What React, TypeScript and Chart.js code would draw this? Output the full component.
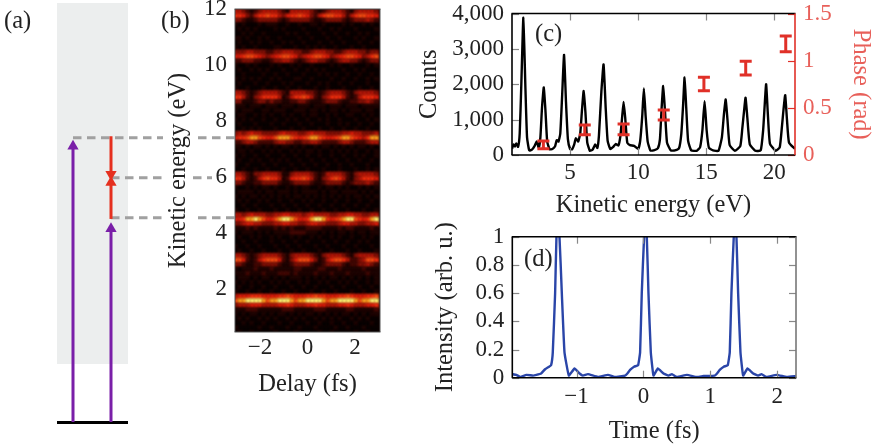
import React, { useEffect, useRef } from "react";
import { Chart, registerables } from "chart.js";

Chart.register(...registerables);

const SERIF = '"Liberation Serif", serif';

// Panel (a): level scheme, y in eV on the same scale as panel (b)
const bgBandX = [57, 128];
const bgBandTop = 12.21;
const bgBandBottom = -0.68;
const groundX = [57, 128];
const groundE = -2.77;
const pumpLeft = [{ x: 73, y: -2.75 }, { x: 73, y: 7.1 }];
const pumpRight = [{ x: 111, y: -2.75 }, { x: 111, y: 4.15 }];
const redDown = [{ x: 111, y: 7.45 }, { x: 111, y: 6.1 }];
const redUp = [{ x: 111, y: 4.5 }, { x: 111, y: 5.8 }];
const dash74 = [{ x: 73, y: 7.4 }, { x: 163, y: 7.4 }, { x: NaN, y: NaN }, { x: 198, y: 7.4 }, { x: 235, y: 7.4 }];
const dash60 = [{ x: 111, y: 5.97 }, { x: 163, y: 5.97 }, { x: NaN, y: NaN }, { x: 193, y: 5.97 }, { x: 212, y: 5.97 }];
const dash45 = [{ x: 111, y: 4.54 }, { x: 163, y: 4.54 }, { x: NaN, y: NaN }, { x: 198, y: 4.54 }, { x: 235, y: 4.54 }];

// Panel (b): delay-energy map, one digit (0-9) per cell
const delayStart = -3.0;
const delayStep = 0.1685;
const energyStart = 11.99;
const energyStep = 0.1616;
const heatColors = ["#080000", "#1e0402", "#440804", "#801006", "#b01608", "#d81c0a", "#ec2c0e", "#f44a12", "#fb9c1e", "#fff070"];
const heatRows = [
  "443212344443214444432123444321344443",
  "665324667664356676532467766424677665",
  "332112333332123333321123333212333432",
  "101000101110010010011010000101001010",
  "010101000010100001000100101000100001",
  "001010010000010100100010010010010100",
  "110100101001000010010001001000101001",
  "010010100100101001000100100100010010",
  "101001000011000100101010010001001000",
  "333443332233444332234443322344433233",
  "556776543456776534567765345677653467",
  "223332211233443212344332123443321233",
  "100101000101001010010000101001000101",
  "010010101000100100101010000100101000",
  "001000010010010001000101010010010010",
  "101010100101000110010000100100100101",
  "010001001000101000100101001001000100",
  "100100010010010010001001000100010010",
  "443212344443214444332123444321344443",
  "664213466664124667642134666421246665",
  "331112332322112233211123332112233432",
  "111011101110111011101110111011101111",
  "101110011011100111011010110101110110",
  "011001010100101001011001010011001010",
  "101010010010010100100101001000100101",
  "010001000100100010010001001010010010",
  "001010100010001001000100100100100100",
  "343454433334544433454443333445443334",
  "566788765578887656788765567887654688",
  "223443222234433223344322223443222344",
  "110101101010110101001011010101011010",
  "011010010101001010110100101010100101",
  "101001001000100100100100100100101001",
  "010010100101010010010010010010010010",
  "100100010010001001001001001001000100",
  "001001001000100100100010001000100101",
  "443213344443113444432124444321344443",
  "664212467664125667642134676421346665",
  "332112233332112333321123333212333432",
  "100101011010010101100101101010010101",
  "011110101101110101111010110111101010",
  "101011010101010110101010101010110101",
  "010100101001001001010010010010010010",
  "001001000100100100100100100100100100",
  "100100100010010010010010010010001001",
  "443454443344554443454444334455443344",
  "556889875578998755689986567899765689",
  "334554433344554433455443334554433445",
  "111212111121212111222211112122111121",
  "101110101011112222111010101101011011",
  "010010100101001010010100101001001010",
  "001001000100100100100010010010010100",
  "100100100010010010001001000100100010",
  "010010010001001001000100100010010001",
  "443212344443213444432134444321344443",
  "775212467775213577753124677642234776",
  "332112233332112333321123333212233432",
  "101112111211111221111221112111112111",
  "111211121112221211112111211121111211",
  "011101011010101110101010110101010101",
  "101010100101010010100101001010100101",
  "010010010010001001001000100100010010",
  "100100100100100100010010010001001001",
  "455566655556676555667665556676555667",
  "788999987889998788999987889999878899",
  "344455544445565444556554445565444556",
  "111222111111222111112221111122111112",
  "101011010101101010110101010110101011",
  "010100101010010101001010101001010100",
  "001010010001001000100100100100100010",
  "100000100100010010001000010010001000",
  "010010000010000100000100100000100100",
];
const phaseTicks = [0, 0.5, 1, 1.5];

// Panel (c): photoelectron spectrum
const specEnergy = [
  0.74, 0.85, 0.95, 1.05, 1.18, 1.3, 1.42, 1.57, 1.72, 1.84, 2.0, 2.2, 2.4, 2.55, 2.7, 2.82, 2.94, 3.07, 3.2, 3.32, 3.5, 3.7, 3.9, 4.02, 4.15, 4.28, 4.42, 4.56, 4.7, 4.84, 5.0, 5.15, 5.3, 5.42, 5.6, 5.75, 5.88, 6.0, 6.13, 6.26, 6.45, 6.65, 6.85, 7.0, 7.12, 7.3, 7.46, 7.62, 7.76, 7.95, 8.15, 8.35, 8.55, 8.7, 8.82, 8.93, 9.05, 9.2, 9.4, 9.7, 10.0, 10.15, 10.3, 10.42, 10.55, 10.7, 10.9, 11.2, 11.45, 11.6, 11.72, 11.84, 11.97, 12.12, 12.4, 12.7, 13.0, 13.17, 13.3, 13.41, 13.53, 13.67, 13.9, 14.3, 14.55, 14.72, 14.88, 15.03, 15.2, 15.5, 15.9, 16.15, 16.3, 16.43, 16.56, 16.72, 17.1, 17.5, 17.65, 17.78, 17.89, 18.02, 18.2, 18.6, 19.0, 19.18, 19.3, 19.4, 19.52, 19.68, 20.1, 20.4, 20.56, 20.68, 20.8, 20.93, 21.08, 21.52,
];
const specCounts = [
  180, 300, 240, 330, 230, 600, 2000, 3880, 1900, 500, 130, 150, 260, 380, 210, 500, 1350, 1910, 1200, 380, 160, 170, 250, 420, 380, 600, 1700, 2830, 1500, 450, 170, 160, 290, 470, 380, 620, 1300, 1810, 1200, 360, 120, 150, 300, 200, 550, 1800, 2560, 1300, 400, 170, 220, 310, 270, 550, 1050, 1500, 1050, 350, 280, 260, 170, 400, 1100, 1880, 1100, 380, 130, 140, 190, 450, 1300, 1950, 1250, 350, 130, 130, 190, 600, 1400, 2190, 1350, 400, 130, 120, 220, 700, 1520, 700, 200, 130, 120, 500, 1150, 1570, 1000, 280, 120, 250, 750, 1250, 1620, 1050, 300, 120, 130, 700, 1450, 2000, 1200, 320, 120, 220, 800, 1300, 1690, 1000, 350, 170,
];
const phaseEnergy = [3.04, 6.08, 8.93, 11.88, 14.83, 17.9, 20.84];
const phaseLow = [0.067, 0.215, 0.215, 0.371, 0.682, 0.848, 1.095];
const phaseHigh = [0.148, 0.318, 0.329, 0.477, 0.824, 0.993, 1.262];
const countTicks = [0, 1000, 2000, 3000, 4000];
const energyTicksC = [5, 10, 15, 20];

// Panel (d): reconstructed pulse train
const pulseTime = [
  -1.96, -1.9, -1.84, -1.75, -1.65, -1.6, -1.53, -1.47, -1.41, -1.38, -1.355, -1.32, -1.3, -1.28, -1.255, -1.22, -1.18, -1.115, -1.03, -0.955, -0.905, -0.83, -0.68, -0.53, -0.43,
  -0.275, -0.24, -0.2, -0.14, -0.08, -0.05, -0.025, 0.01, 0.03, 0.05, 0.075, 0.11, 0.15, 0.215, 0.3, 0.375, 0.425, 0.5, 0.65, 0.8, 0.9,
  1.065, 1.1, 1.14, 1.2, 1.26, 1.29, 1.315, 1.35, 1.37, 1.39, 1.415, 1.45, 1.49, 1.555, 1.64, 1.715, 1.765, 1.84, 1.99, 2.14, 2.28,
];
const pulseIntensity = [
  0.025, 0.02, 0.005, 0.02, 0.015, 0.02, 0.03, 0.06, 0.078, 0.088, 0.18, 0.6, 1.0, 1.03, 1.0, 0.6, 0.18, 0.015, 0.065, 0.03, 0.015, 0.025, 0.005, 0.02, 0.005,
  0.015, 0.03, 0.055, 0.078, 0.088, 0.18, 0.6, 1.0, 1.03, 1.0, 0.6, 0.18, 0.015, 0.065, 0.03, 0.015, 0.025, 0.005, 0.02, 0.005, 0.012,
  0.015, 0.03, 0.055, 0.078, 0.088, 0.18, 0.6, 1.0, 1.03, 1.0, 0.6, 0.18, 0.015, 0.065, 0.03, 0.015, 0.025, 0.005, 0.02, 0.005, 0.012,
];
const intensityTicks = [0, 0.2, 0.4, 0.6, 0.8, 1];
const timeTicks = [-1, 0, 1, 2];
const delayTicks = [-2, 0, 2];
const energyTicksB = [2, 4, 6, 8, 10, 12];

const minus = (v: number) => String(v).replace("-", "\u2212");
const tickFont = { family: SERIF, size: 23 };
const titleFont = { family: SERIF, size: 24.5 };

// Frame and inward ticks, positioned by the chart's own scales
const framePlugin = {
  id: "frame",
  beforeDraw(chart: any, _a: any, o: any) {
    if (!o.fill) return;
    const { ctx, chartArea: c } = chart;
    ctx.save();
    ctx.fillStyle = o.fill;
    ctx.fillRect(c.left, c.top, c.right - c.left, c.bottom - c.top);
    ctx.restore();
  },
  beforeDatasetDraw(chart: any, _a: any, o: any) {
    if (o.blur) chart.ctx.filter = `blur(${o.blur}px)`;
  },
  afterDatasetDraw(chart: any, _a: any, o: any) {
    if (o.blur) chart.ctx.filter = "none";
  },
  afterDraw(chart: any, _a: any, o: any) {
    const { ctx, chartArea: c } = chart;
    ctx.save();
    for (const t of o.ticks || []) {
      const s = chart.scales[t.scale];
      ctx.strokeStyle = t.color;
      ctx.lineWidth = 1.2;
      for (const k of s.ticks) {
        const p = Math.round(s.getPixelForValue(k.value)) + 0.5;
        ctx.beginPath();
        if (t.side === "top" || t.side === "bottom") {
          const y = t.side === "top" ? c.top : c.bottom;
          ctx.moveTo(p, y);
          ctx.lineTo(p, y + (t.side === "top" ? 7 : -7));
        } else {
          const x = t.side === "left" ? c.left : c.right;
          ctx.moveTo(x, p);
          ctx.lineTo(x + (t.side === "left" ? 7 : -7), p);
        }
        ctx.stroke();
      }
    }
    const edge = (col: string, w: number, a: number[]) => {
      ctx.strokeStyle = col;
      ctx.lineWidth = w;
      ctx.beginPath();
      ctx.moveTo(a[0], a[1]);
      ctx.lineTo(a[2], a[3]);
      ctx.stroke();
    };
    if (o.frame) {
      const f = o.frame;
      edge(f.top, f.w, [c.left - 0.5, c.top, c.right + 0.5, c.top]);
      edge(f.bottom, f.w, [c.left - 0.5, c.bottom, c.right + 0.5, c.bottom]);
      edge(f.left, f.w, [c.left, c.top, c.left, c.bottom]);
      edge(f.right, f.w, [c.right, c.top, c.right, c.bottom]);
    }
    ctx.restore();
  },
};

const fixedTicks = (vals: number[]) => (s: any) => {
  s.ticks = vals.map((value) => ({ value }));
};
const noMargins = (s: any) => {
  s.paddingTop = 0;
  s.paddingBottom = 0;
  s.paddingLeft = 0;
  s.paddingRight = 0;
};
const fixWidth = (w: number) => (s: any) => {
  s.width = w;
  noMargins(s);
};
const fixHeight = (h: number) => (s: any) => {
  s.height = h;
  noMargins(s);
};

function baseX(min: number, max: number, vals: number[], height: number, title: string, titlePad: number, fmt: (v: number) => string, tickPad: number) {
  return {
    type: "linear",
    min,
    max,
    afterBuildTicks: fixedTicks(vals),
    afterFit: fixHeight(height),
    grid: { display: false, drawTicks: false },
    border: { display: false },
    ticks: { color: "#222", font: tickFont, padding: tickPad, maxRotation: 0, autoSkip: false, callback: (v: any) => fmt(Number(v)) },
    title: { display: true, text: title, color: "#222", font: titleFont, padding: { top: 0, bottom: titlePad } },
  };
}

function baseY(min: number, max: number, vals: number[], width: number, title: string, titlePad: number, fmt: (v: number) => string, color = "#222", position = "left") {
  return {
    type: "linear",
    position,
    min,
    max,
    afterBuildTicks: fixedTicks(vals),
    afterFit: fixWidth(width),
    grid: { display: false, drawTicks: false },
    border: { display: false },
    ticks: { color, font: tickFont, padding: 8, autoSkip: false, callback: (v: any) => fmt(Number(v)) },
    title: { display: true, text: title, color, font: titleFont, padding: { top: titlePad, bottom: 0 } },
  };
}

function useChart(make: () => any) {
  const ref = useRef<HTMLCanvasElement | null>(null);
  useEffect(() => {
    const chart = new Chart(ref.current as any, make());
    return () => chart.destroy();
  }, []);
  return ref;
}

const common = { animation: false, responsive: false, devicePixelRatio: 1 };
const noLegend = { legend: { display: false }, tooltip: { enabled: false } };
const arrow = (data: any[], color: string, rot: number) => ({
  data,
  borderColor: color,
  backgroundColor: color,
  borderWidth: 3,
  pointRadius: [0, 6.5],
  pointBorderWidth: 0,
  pointStyle: "triangle",
  pointRotation: rot,
  showLine: true,
});

function levelConfig() {
  const dash = (data: any[]) => ({ data, borderColor: "#a0a0a0", borderWidth: 3, borderDash: [8.5, 5.5], pointRadius: 0, showLine: true, spanGaps: false });
  return {
    type: "scatter",
    data: {
      datasets: [
        arrow(redDown, "#e5301f", 180),
        arrow(redUp, "#e5301f", 0),
        arrow(pumpLeft, "#7a1fa8", 0),
        arrow(pumpRight, "#7a1fa8", 0),
        dash(dash74),
        dash(dash60),
        dash(dash45),
        { data: groundX.map((x) => ({ x, y: groundE })), borderColor: "#000", borderWidth: 3, pointRadius: 0, showLine: true },
        { data: bgBandX.map((x) => ({ x, y: bgBandTop })), borderWidth: 0, pointRadius: 0, showLine: true, backgroundColor: "#eceeee", fill: { value: bgBandBottom } },
      ],
    },
    options: {
      ...common,
      layout: { padding: 0, autoPadding: false },
      plugins: noLegend,
      scales: {
        x: { type: "linear", min: 0, max: 240, display: false },
        y: { type: "linear", min: -3.68, max: 12.32, display: false },
      },
    },
  };
}

function heatConfig() {
  const cells: any[] = [];
  const colors: string[] = [];
  heatRows.forEach((row, r) => {
    row.split("").forEach((d, c) => {
      cells.push({ x: delayStart + delayStep * c, y: energyStart - energyStep * (r + 0.5) });
      colors.push(heatColors[Number(d)]);
    });
  });
  return {
    type: "scatter",
    data: { datasets: [{ data: cells, pointStyle: "rect", pointRadius: 3.6, pointBorderWidth: 0, backgroundColor: colors, pointHoverRadius: 3.6 }] },
    options: {
      ...common,
      layout: { padding: { top: 9, right: 6, left: 0, bottom: 0 }, autoPadding: false },
      plugins: {
        ...noLegend,
        frame: { blur: 1.2, fill: "#120200", frame: { top: "#555", bottom: "#555", left: "#555", right: "#555", w: 1 } },
      },
      scales: {
        x: baseX(-3.05, 3.05, delayTicks, 68, "Delay (fs)", 1, minus, 2),
        y: baseY(0.46, 12, energyTicksB, 85, "Kinetic energy (eV)", 14, String),
      },
    },
    plugins: [framePlugin],
  };
}

function specConfig() {
  const stems: any[] = [];
  phaseEnergy.forEach((x, i) => {
    stems.push({ x, y: phaseLow[i] }, { x, y: phaseHigh[i] }, { x: NaN, y: NaN });
  });
  const caps: any[] = [];
  phaseEnergy.forEach((x, i) => {
    caps.push({ x, y: phaseLow[i] }, { x, y: phaseHigh[i] });
  });
  return {
    type: "scatter",
    data: {
      datasets: [
        { data: stems, yAxisID: "y2", borderColor: "#e03028", borderWidth: 3, pointRadius: 0, showLine: true, spanGaps: false },
        { data: caps, yAxisID: "y2", borderColor: "#e03028", pointStyle: "line", pointRadius: 6, pointBorderWidth: 3, showLine: false },
        { data: specEnergy.map((x, i) => ({ x, y: specCounts[i] })), yAxisID: "y", borderColor: "#000", borderWidth: 2.4, pointRadius: 0, showLine: true, tension: 0.15 },
      ],
    },
    options: {
      ...common,
      layout: { padding: { top: 13.5, right: 0, left: 0, bottom: 0 }, autoPadding: false },
      plugins: {
        ...noLegend,
        frame: {
          ticks: [
            { scale: "x", side: "top", color: "#888" },
            { scale: "x", side: "bottom", color: "#888" },
            { scale: "y", side: "left", color: "#888" },
            { scale: "y2", side: "right", color: "#e03028" },
          ],
          frame: { top: "#000", bottom: "#000", left: "#000", right: "#e03028", w: 1.6 },
        },
      },
      scales: {
        x: baseX(0.735, 21.52, energyTicksC, 70, "Kinetic energy (eV)", 5, String, 4),
        y: baseY(0, 4000, countTicks, 100, "Counts", 3.3, (v) => v.toLocaleString("en-US")),
        y2: baseY(0, 1.5, phaseTicks, 81, "Phase (rad)", 1.3, String, "#e8605a", "right"),
      },
    },
    plugins: [framePlugin],
  };
}

function pulseConfig() {
  return {
    type: "scatter",
    data: {
      datasets: [{ data: pulseTime.map((x, i) => ({ x, y: pulseIntensity[i] })), borderColor: "#2a45a8", borderWidth: 2.4, pointRadius: 0, showLine: true, tension: 0.1 }],
    },
    options: {
      ...common,
      layout: { padding: { top: 16.7, right: 80, left: 0, bottom: 0 }, autoPadding: false },
      plugins: {
        ...noLegend,
        frame: {
          ticks: [
            { scale: "x", side: "top", color: "#888" },
            { scale: "x", side: "bottom", color: "#888" },
            { scale: "y", side: "left", color: "#888" },
            { scale: "y", side: "right", color: "#888" },
          ],
          frame: { top: "#000", bottom: "#000", left: "#000", right: "#777", w: 1.6 },
        },
      },
      scales: {
        x: baseX(-1.96, 2.28, timeTicks, 70.3, "Time (fs)", 2, minus, 5),
        y: baseY(0, 1, intensityTicks, 100.3, "Intensity (arb. u.)", 19, String),
      },
    },
    plugins: [framePlugin],
  };
}

const box = (left: number, top: number): React.CSSProperties => ({ position: "absolute", left, top, display: "block" });
const panelLabel = (left: number, top: number): React.CSSProperties => ({ position: "absolute", left, top, font: `24.5px ${SERIF}`, color: "#222", lineHeight: "24px" });

export default function App() {
  const level = useChart(levelConfig);
  const heat = useChart(heatConfig);
  const spec = useChart(specConfig);
  const pulse = useChart(pulseConfig);
  return (
    <div style={{ position: "fixed", left: 0, top: 0, width: 876, height: 448, overflow: "hidden", background: "#fff" }}>
      <canvas ref={level} width={240} height={448} style={box(0, 0)} />
      <canvas ref={heat} width={236} height={400} style={box(150, 0)} />
      <canvas ref={spec} width={464} height={225} style={box(412, 0)} />
      <canvas ref={pulse} width={464} height={228} style={box(412, 220)} />
      <span style={panelLabel(4, 8)}>(a)</span>
      <span style={panelLabel(161, 8)}>(b)</span>
      <span style={panelLabel(535, 21)}>(c)</span>
      <span style={panelLabel(524, 246)}>(d)</span>
    </div>
  );
}
